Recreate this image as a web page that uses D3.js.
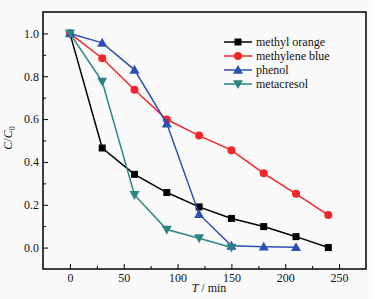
<!DOCTYPE html>
<html>
<head>
<meta charset="utf-8">
<script src="https://cdn.jsdelivr.net/npm/d3@7"></script>
<style>
  body { margin: 0; background: #fff; }
  svg { display: block; font-family: 'Liberation Serif', 'DejaVu Serif', serif; }
  svg text { font-family: 'Liberation Serif', 'DejaVu Serif', serif; }
</style>
</head>
<body>
<svg width="381" height="299"></svg>
<script>
// time points (min)
const times = [0, 30, 60, 90, 120, 150, 180, 210, 240];
const methylOrange = [1.0, 0.465, 0.342, 0.257, 0.19, 0.136, 0.098, 0.051, 0.0];
const methyleneBlue = [1.0, 0.884, 0.737, 0.598, 0.523, 0.455, 0.347, 0.251, 0.152];
const phenol = [1.0, 0.956, 0.83, 0.579, 0.156, 0.008, 0.004, 0.002];
const metacresol = [1.0, 0.775, 0.246, 0.084, 0.044, 0.0];
const seriesNames = ["methyl orange", "methylene blue", "phenol", "metacresol"];
const xTicks = [0, 50, 100, 150, 200, 250];
const yTicks = [0.0, 0.2, 0.4, 0.6, 0.8, 1.0];

const svg = d3.select('svg');
const margin = {top: 12, left: 43};
const height = +svg.attr('height');
const innerWidth = 366 - margin.left;
const innerHeight = 269 - margin.top;

svg.append('rect').attr('width', 372).attr('height', height).attr('fill', '#fafafa');

const g = svg.append('g').attr('transform', `translate(${margin.left},${margin.top})`);

const xScale = d3.scaleLinear().domain([-25, 275]).range([0, innerWidth]);
const yScale = d3.scaleLinear().domain([-0.1, 1.1]).range([innerHeight, 0]);

// axes with inward ticks
const xAxis = d3.axisBottom(xScale).tickValues(xTicks).tickFormat(d3.format('d'))
  .tickSizeInner(-5).tickSizeOuter(0).tickPadding(4);
const xMinor = d3.axisBottom(xScale).tickValues(xTicks.map(d => d + 25).filter(d => d < 275))
  .tickSizeInner(-3).tickSizeOuter(0).tickFormat('');
const yAxis = d3.axisLeft(yScale).tickValues(yTicks).tickFormat(d3.format('.1f'))
  .tickSizeInner(-5).tickSizeOuter(0).tickPadding(4);
const yMinor = d3.axisLeft(yScale).tickValues([0.1, 0.3, 0.5, 0.7, 0.9])
  .tickSizeInner(-3).tickSizeOuter(0).tickFormat('');

[[xAxis, 'x'], [xMinor, 'x'], [yAxis, 'y'], [yMinor, 'y']].forEach(([ax, k]) => {
  const a = g.append('g')
    .attr('transform', k === 'x' ? `translate(0,${innerHeight})` : null)
    .call(ax);
  a.attr('font-family', null).attr('font-size', null);
  a.select('.domain').remove();
  a.selectAll('line').attr('stroke', '#000').attr('stroke-width', 1);
  a.selectAll('text').style('font-size', '12px').attr('fill', '#111');
});

// frame
g.append('rect').attr('width', innerWidth).attr('height', innerHeight)
  .attr('fill', 'none').attr('stroke', '#000').attr('stroke-width', 1.5);

const series = [
  {name: seriesNames[0], values: methylOrange, color: '#000000', symbol: 'square'},
  {name: seriesNames[1], values: methyleneBlue, color: '#f2262a', symbol: 'circle'},
  {name: seriesNames[2], values: phenol, color: '#2b50b4', symbol: 'up'},
  {name: seriesNames[3], values: metacresol, color: '#2a8484', symbol: 'down'}
];

function marker(sel, symbol, color) {
  if (symbol === 'square') {
    sel.append('rect').attr('x', -3.5).attr('y', -3.5).attr('width', 7).attr('height', 7).attr('fill', color);
  } else if (symbol === 'circle') {
    sel.append('circle').attr('r', 4).attr('fill', color);
  } else if (symbol === 'up') {
    sel.append('path').attr('d', 'M0,-5L5,3.8L-5,3.8Z').attr('fill', color);
  } else {
    sel.append('path').attr('d', 'M0,5L5,-3.8L-5,-3.8Z').attr('fill', color);
  }
}

const line = d3.line().x(d => xScale(d.t)).y(d => yScale(d.v));

series.forEach(s => {
  const pts = s.values.map((v, i) => ({t: times[i], v: v}));
  g.append('path').datum(pts).attr('d', line)
    .attr('fill', 'none').attr('stroke', s.color).attr('stroke-width', 1.5);
  g.selectAll(null).data(pts).enter().append('g')
    .attr('transform', d => `translate(${xScale(d.t)},${yScale(d.v)})`)
    .each(function () { marker(d3.select(this), s.symbol, s.color); });
});

// legend
const legend = svg.append('g').attr('transform', 'translate(224,42)');
series.forEach((s, i) => {
  const row = legend.append('g').attr('transform', `translate(0,${i * 14})`);
  row.append('line').attr('x1', 0).attr('x2', 28).attr('stroke', s.color).attr('stroke-width', 1.5);
  marker(row.append('g').attr('transform', 'translate(14,0)'), s.symbol, s.color);
  row.append('text').attr('x', 32).attr('y', 0).attr('dy', '0.35em')
    .style('font-size', '12px').attr('fill', '#111').text(s.name);
});

// axis labels
const yl = svg.append('text').attr('transform', 'translate(12,138) rotate(-90)')
  .attr('text-anchor', 'middle').style('font-size', '12px').attr('fill', '#111');
yl.append('tspan').attr('font-style', 'italic').text('C');
yl.append('tspan').text('/');
yl.append('tspan').attr('font-style', 'italic').text('C');
yl.append('tspan').style('font-size', '8px').attr('dy', 3).text('0');

const xl = svg.append('text').attr('x', 209).attr('y', 292)
  .attr('text-anchor', 'middle').style('font-size', '12px').attr('fill', '#111');
xl.append('tspan').attr('font-style', 'italic').text('T');
xl.append('tspan').text(' / min');
</script>
</body>
</html>
